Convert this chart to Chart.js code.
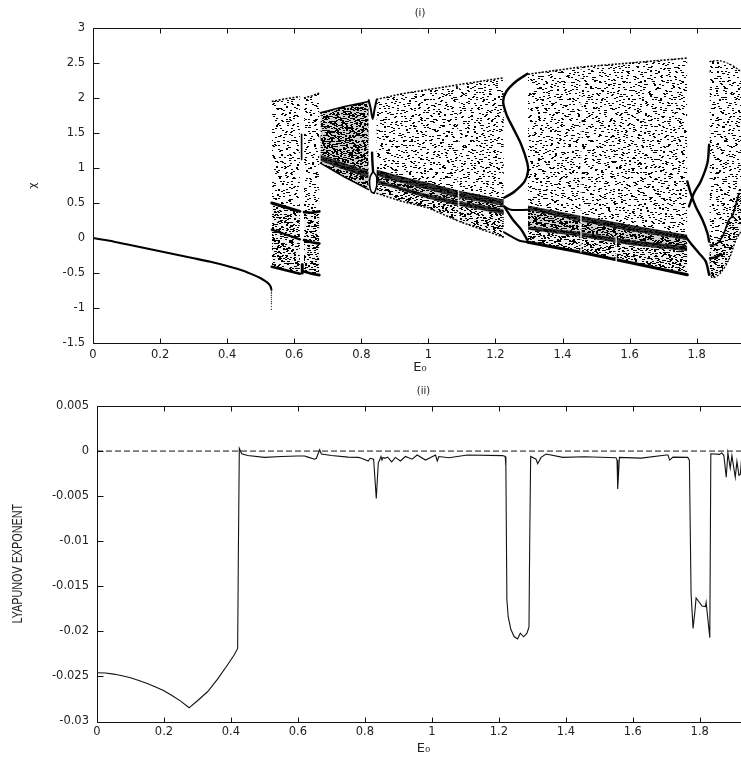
<!DOCTYPE html>
<html><head><meta charset="utf-8">
<style>
html,body{margin:0;padding:0;background:#fff;overflow:hidden;width:741px;height:759px}
canvas{position:absolute;left:0;display:block}
#wrap{position:absolute;left:0;top:0;width:741px;height:759px;overflow:hidden}
</style>
<script src="https://cdn.jsdelivr.net/npm/chart.js@4/dist/chart.umd.js"></script>
</head><body>
<div id="wrap">
<canvas id="c1" width="751" height="380" style="top:0"></canvas>
<canvas id="c2" width="750" height="379" style="top:380px"></canvas>
</div>
<script>
// ---------- tick labels ----------
const xTicks=[0,0.2,0.4,0.6,0.8,1,1.2,1.4,1.6,1.8];
const chiTicks=[-1.5,-1,-0.5,0,0.5,1,1.5,2,2.5,3];
const lyaTicks=[-0.03,-0.025,-0.02,-0.015,-0.01,-0.005,0,0.005];

// ---------- panel (i): fixed point branch ----------
const fixedE=[0,0.05,0.1,0.15,0.2,0.25,0.3,0.35,0.4,0.45,0.48,0.5,0.515,0.525,0.53,0.532];
const fixedX=[0,-0.04,-0.09,-0.14,-0.19,-0.24,-0.29,-0.34,-0.40,-0.47,-0.53,-0.575,-0.62,-0.66,-0.70,-0.74];
const dropE=[0.532,0.532,0.532,0.532,0.532,0.532,0.532,0.532,0.532];
const dropX=[-0.77,-0.79,-0.82,-0.85,-0.88,-0.91,-0.94,-0.98,-1.02];

// ---------- panel (i): chaotic band edges ----------
const aLE=[0.533,0.575,0.617], aLTop=[1.95,1.99,2.02], aLLine1=[0.50,0.44,0.38], aLLine2=[0.12,0.05,-0.02], aLBot=[-0.41,-0.46,-0.51];
const aRE=[0.629,0.652,0.675], aRTop=[2.00,2.03,2.07], aRLine1=[0.37,0.36,0.38], aRLine2=[-0.03,-0.06,-0.08], aRBot=[-0.48,-0.51,-0.53];
const bE=[0.678,0.75,0.822], bTop=[1.79,1.88,1.95], bS1Top=[1.19,1.07,0.95], bS1Bot=[1.10,0.97,0.86], bBot=[1.07,0.87,0.69];
const cE=[0.845,0.92,1,1.09,1.225], cTop=[1.98,2.06,2.12,2.19,2.29];
const cS1Top=[0.978,0.88,0.79,0.68,0.55], cS1Bot=[0.89,0.79,0.69,0.57,0.46];
const cS2Top=[0.835,0.73,0.62,0.53,0.405], cS2Bot=[0.787,0.68,0.56,0.46,0.335], cBot=[0.64,0.525,0.43,0.24,0.01];
const dE=[1.297,1.45,1.6,1.772], dTop=[2.34,2.44,2.50,2.57];
const dS1Top=[0.463,0.32,0.19,0.048], dS1Bot=[0.405,0.24,0.10,-0.03];
const dS2Top=[0.167,0.09,-0.03,-0.119], dS2Bot=[0.119,0.02,-0.10,-0.19], dBot=[-0.06,-0.20,-0.35,-0.525];
const eE=[1.838,1.848,1.871,1.896,1.92,1.95], eTop=[2.52,2.53,2.53,2.49,2.42,2.3];
const eMid=[-0.05,-0.06,0.02,0.26,0.64,0.9], eBot=[-0.5,-0.57,-0.5,-0.31,0.0,0.2];

// ---------- panel (i): periodic windows ----------
const sE=[1.226,1.257,1.287,1.297,1.295,1.277,1.252,1.233,1.223,1.233,1.262,1.295];
const sX=[0.575,0.665,0.808,0.951,1.072,1.333,1.577,1.763,1.953,2.096,2.239,2.345];
const flatE=[1.226,1.246,1.297], flatX=[0.451,0.403,0.403];
const eyeUpE=[1.226,1.252,1.277,1.295], eyeUpX=[0.451,0.26,0.12,-0.03];
const eyeLoE=[1.226,1.247,1.272,1.295], eyeLoX=[0.079,0.022,-0.04,-0.06];
const winAE=[1.772,1.782,1.797,1.817,1.832,1.837], winAX=[0.808,0.642,0.451,0.26,0.069,-0.05];
const winBE=[1.837,1.832,1.812,1.792,1.777], winBX=[1.333,1.072,0.808,0.642,0.451];
const winCE=[1.767,1.782,1.807,1.827,1.837], winCX=[0.021,-0.074,-0.217,-0.337,-0.526];
const w1E=[0.822,0.828,0.834,0.84,0.846], w1X=[1.97,1.85,1.70,1.85,1.98];
const w2E=[0.832,0.833,0.835], w2X=[1.22,1.1,0.95];
const w3E=[0.835,0.826,0.825,0.83,0.838], w3X=[0.95,0.87,0.75,0.66,0.64];
const w4E=[0.835,0.845,0.846,0.842,0.838], w4X=[0.95,0.88,0.75,0.68,0.64];
const w5E=[0.622,0.622], w5X=[1.48,1.12];
const w6E=[0.624,0.624], w6X=[-0.38,-0.5];
const eCurveE=[1.84,1.858,1.877,1.896,1.906,1.925], eCurveX=[-0.10,-0.09,0.02,0.26,0.31,0.62];
const eLowE=[1.84,1.86,1.872], eLowX=[-0.29,-0.27,-0.23];
const slitE=[1.09,1.455,1.56];
const slitHi=[2.2,2.44,0.0], slitLo=[0.24,-0.2,-0.36];

// ---------- panel (ii): Lyapunov exponent ----------
const lyaE=[0,0.025,0.05,0.075,0.1,0.125,0.15,0.175,0.2,0.225,0.25,0.275,0.3,0.33,0.36,0.39,0.41,0.42,0.422,0.425,0.432,0.45,0.5,0.55,0.6,0.62,0.63,0.65,0.655,0.665,0.67,0.7,0.75,0.78,0.79,0.81,0.816,0.826,0.834,0.84,0.844,0.848,0.851,0.854,0.86,0.868,0.88,0.891,0.906,0.921,0.941,0.956,0.981,1.011,1.016,1.021,1.051,1.106,1.211,1.219,1.221,1.224,1.228,1.236,1.246,1.256,1.264,1.274,1.284,1.29,1.292,1.295,1.311,1.316,1.326,1.341,1.391,1.456,1.55,1.553,1.555,1.56,1.625,1.70,1.705,1.71,1.72,1.764,1.769,1.774,1.78,1.786,1.789,1.799,1.807,1.817,1.819,1.83,1.833,1.859,1.866,1.872,1.879,1.884,1.891,1.896,1.906,1.911,1.917,1.921,1.927];
const lyaV=[-0.02459,-0.02462,-0.02474,-0.02492,-0.02515,-0.02545,-0.02578,-0.02617,-0.02659,-0.02714,-0.02774,-0.02848,-0.0277,-0.0267,-0.0253,-0.0237,-0.0226,-0.0219,-0.012,0.0003,-0.0003,-0.0005,-0.0007,-0.0006,-0.00055,-0.00055,-0.00067,-0.0009,-0.0008,0.00015,-0.00033,-0.0005,-0.00067,-0.0007,-0.0008,-0.0011,-0.0008,-0.0009,-0.00526,-0.0013,-0.001,-0.0006,-0.001,-0.0007,-0.0008,-0.00067,-0.0012,-0.0007,-0.0011,-0.0006,-0.0009,-0.00044,-0.001,-0.00044,-0.0011,-0.0006,-0.00074,-0.00044,-0.0005,-0.0006,-0.0017,-0.0165,-0.0184,-0.0198,-0.0206,-0.02085,-0.0202,-0.0206,-0.0202,-0.0195,-0.0106,-0.0006,-0.0009,-0.0014,-0.0007,-0.00033,-0.0007,-0.00063,-0.00074,-0.001,-0.0042,-0.0007,-0.00078,-0.00044,-0.00044,-0.001,-0.00067,-0.0007,-0.001,-0.0158,-0.01967,-0.0176,-0.0163,-0.0168,-0.0172,-0.01726,-0.0168,-0.0207,-0.0003,-0.00037,-0.0002,-0.0005,-0.0029,-0.0002,-0.0019,-0.0005,-0.0029,-0.00115,-0.0027,-0.0026,0];
const zeroE=[0,1.95], zeroV=[0,0];

// ---------- stipple texture for the chaotic bands (style only, not data) ----------
const tileA=[[3,2],[9,4],[21,1],[34,3],[48,2],[60,5],[14,8],[27,7],[41,9],[55,8],[64,11],[5,12],[19,13],[33,14],[46,13],[58,16],[10,18],[24,19],[38,18],[51,21],[2,22],[16,24],[30,23],[44,25],[62,24],[7,28],[22,29],[36,28],[54,30],[12,33],[28,34],[42,33],[60,35],[4,37],[18,39],[35,39],[49,38],[25,43],[57,42],[8,44],[40,45],[15,48],[31,49],[52,47],[63,50],[1,51],[45,51]];
const tileB=[[2,3],[13,1],[27,5],[41,2],[52,6],[7,9],[20,11],[35,10],[47,13],[56,15],[1,16],[14,18],[29,17],[40,20],[9,23],[24,24],[50,22],[33,27],[45,29],[5,30],[17,32],[55,31],[26,35],[38,36],[11,38],[48,39],[2,42],[20,43],[32,44],[57,45],[42,47],[13,49],[27,51],[51,53],[6,54],[36,56],[19,58],[45,60],[56,61],[10,62],[29,64],[3,67],[39,68],[22,69],[50,69]];
const tileC=[[4,1],[18,3],[31,1],[47,2],[63,4],[76,1],[10,6],[25,7],[40,6],[55,8],[70,7],[2,10],[16,12],[34,11],[49,13],[66,12],[80,11],[8,16],[27,16],[43,17],[59,16],[74,18],[14,21],[37,21],[52,22],[68,23],[3,24],[22,25],[45,26],[78,25],[11,29],[30,30],[60,29],[72,31],[19,34],[39,35],[54,34],[6,36],[64,38],[25,39],[47,39],[81,37]];
const tiles=[[tileA,67,53],[tileB,59,71],[tileC,83,41]];
const layerShift=[[0,0],[0,0],[0,0],[29,17],[13,31],[41,9],[51,38],[37,52],[22,27],[11,26],[47,11],[66,33],[38,7],[24,60],[5,19],[60,45],[8,44],[73,14],[19,12],[31,39],[29,3],[43,29],[52,20],[56,22],[6,35],[17,66],[35,30],[33,48],[44,5],[15,36]];
function stipple(layers,base){
  const cv=document.createElement('canvas');cv.width=760;cv.height=400;
  const g=cv.getContext('2d');
  g.fillStyle='#000';
  for(let k=0;k<layers;k++){
    const t=tiles[k%3],o=layerShift[k];
    for(let ox=o[0]-90;ox<760;ox+=t[1])for(let oy=o[1]-90;oy<400;oy+=t[2])
      t[0].forEach(d=>g.fillRect(ox+d[0],oy+d[1],2,1));
  }
  const out=document.createElement('canvas');out.width=760;out.height=400;
  const h=out.getContext('2d');
  if(base){h.fillStyle=base;h.fillRect(0,0,760,400);}
  h.filter='blur(0.4px)';
  h.drawImage(cv,0,0);
  return h.createPattern(out,'repeat');
}
const sparse=stipple(7);
const medium=stipple(17,'rgba(0,0,0,0.06)');
const dense=stipple(27,'rgba(0,0,0,0.18)');
const heavy=stipple(24,'rgba(0,0,0,0.8)');

// ---------- build datasets ----------
const pts=(a,b)=>a.map((x,i)=>({x,y:b[i]}));
const ds1=[];
function band(xs,up,lo,pat,order){
  const idx=ds1.length;
  ds1.push({data:pts(xs,up),borderWidth:0,pointRadius:0,tension:0,fill:false,order});
  ds1.push({data:pts(xs,lo),borderWidth:0,pointRadius:0,tension:0,fill:{target:idx},backgroundColor:pat,order});
}
function line(xs,ys,w,order=5,tension=0.3,color='#000',dash){
  ds1.push({data:pts(xs,ys),borderColor:color,borderWidth:w,pointRadius:0,tension,fill:false,order,borderCapStyle:dash?'butt':'round',borderDash:dash||[]});
}
const speck=[2,1.5];
// region a
band(aLE,aLTop,aLLine1,sparse,50);band(aLE,aLLine1,aLLine2,medium,40);band(aLE,aLLine2,aLBot,medium,40);
band(aRE,aRTop,aRLine1,sparse,50);band(aRE,aRLine1,aRLine2,medium,40);band(aRE,aRLine2,aRBot,medium,40);
[[aLE,aLLine1,3],[aLE,aLLine2,2.2],[aLE,aLBot,2.6],[aRE,aRLine1,2.6],[aRE,aRLine2,2.6],[aRE,aRBot,2.6]].forEach(a=>line(a[0],a[1],a[2],8,0));
line(aLE,aLTop,1.6,8,0,'#000',speck);line(aRE,aRTop,1.6,8,0,'#000',speck);
// region b
band(bE,bTop,bS1Top,dense,40);band(bE,bS1Top,bS1Bot,heavy,30);band(bE,bS1Bot,bBot,dense,40);
line(bE,bTop,1.5,8,0);line(bE,bBot,1.5,8,0);
// region c
band(cE,cTop,cS1Top,sparse,50);band(cE,cS1Top,cS1Bot,heavy,30);band(cE,cS1Bot,cS2Top,dense,40);
band(cE,cS2Top,cS2Bot,heavy,30);band(cE,cS2Bot,cBot,medium,40);
line(cE,cTop,1.5,8,0,'#000',speck);line(cE,cBot,1.5,8,0,'#000',speck);
// region d
band(dE,dTop,dS1Top,sparse,50);band(dE,dS1Top,dS1Bot,heavy,30);band(dE,dS1Bot,dS2Top,dense,40);
band(dE,dS2Top,dS2Bot,heavy,30);band(dE,dS2Bot,dBot,medium,40);
line(dE,dTop,1.6,8,0,'#000',speck);line(dE,dBot,3.2,8,0);
// region e
band(eE,eTop,eMid,sparse,50);band(eE,eMid,eBot,medium,40);
line(eE,eTop,1.2,8,0.3,'#000',speck);line(eE,eBot,1.2,8,0.3,'#000',speck);line(eCurveE,eCurveX,1.6,8);line(eLowE,eLowX,2.6,8);
// slits
slitE.forEach((e,i)=>line([e,e],[slitHi[i],slitLo[i]],1.5,6,0,'rgba(255,255,255,0.85)'));
// window branches
[[sE,sX,2.4],[flatE,flatX,2],[eyeUpE,eyeUpX,2.4],[eyeLoE,eyeLoX,2],[winAE,winAX,2.4],[winBE,winBX,2.4],[winCE,winCX,2.4],[w1E,w1X,2],[w2E,w2X,2.4],[w3E,w3X,1.6],[w4E,w4X,1.6],[w5E,w5X,1.6],[w6E,w6X,3]].forEach(a=>line(a[0],a[1],a[2],2));
line(fixedE,fixedX,2.1,2,0.2);
ds1.push({data:pts(dropE,dropX),showLine:false,pointRadius:0.7,pointBackgroundColor:'#333',pointBorderWidth:0,order:2});

const ds2=[
 {data:pts(lyaE,lyaV),borderColor:'#111',borderWidth:1.1,pointRadius:0,tension:0,fill:false,order:1},
 {data:pts(zeroE,zeroV),borderColor:'#111',borderWidth:1,borderDash:[6,3],pointRadius:0,tension:0,fill:false,order:2}
];

// ---------- gnuplot-style frame with inward ticks ----------
const frame={id:'frame',afterDraw(ch){
  const {ctx,chartArea:a,scales:{x,y}}=ch;
  const L=Math.round(a.left)+.5,R=Math.round(a.right)+.5,T=Math.round(a.top)+.5,B=Math.round(a.bottom)+.5;
  ctx.save();ctx.strokeStyle='#111';ctx.lineWidth=1;ctx.beginPath();
  ctx.rect(L,T,R-L,B-T);
  x.ticks.forEach(t=>{const p=Math.round(x.getPixelForValue(t.value))+.5;ctx.moveTo(p,B);ctx.lineTo(p,B-5);ctx.moveTo(p,T);ctx.lineTo(p,T+5);});
  y.ticks.forEach(t=>{const p=Math.round(y.getPixelForValue(t.value))+.5;ctx.moveTo(L,p);ctx.lineTo(L+6,p);ctx.moveTo(R,p);ctx.lineTo(R-6,p);});
  ctx.stroke();
  // condensed rotated axis title
  const c=ch.options.condensedTitle;
  if(c){
    ctx.translate(c.x,(a.top+a.bottom)/2);ctx.rotate(-Math.PI/2);ctx.scale(c.squeeze,1);
    ctx.fillStyle='#222';ctx.font=c.font;ctx.textAlign='center';ctx.textBaseline='middle';
    ctx.fillText(c.text,0,0);
  }
  ctx.restore();
}};

const tickFont={family:'"DejaVu Sans"',size:11.5};
const ink='#222';
function makeChart(id,datasets,o){
  return new Chart(document.getElementById(id),{
    type:'line',data:{datasets},plugins:[frame],
    options:{responsive:false,animation:false,devicePixelRatio:1,
      condensedTitle:o.condensed,
      layout:{padding:0},
      plugins:{legend:{display:false},tooltip:{enabled:false},
        title:{display:true,text:o.title,fullSize:false,color:ink,font:{family:'"DejaVu Sans"',size:10,weight:'normal'},padding:o.titlePad}},
      scales:{
        x:{type:'linear',min:0,max:1.95,grid:{display:false,drawTicks:false},border:{display:false},
          afterBuildTicks:s=>{s.ticks=xTicks.map(v=>({value:v}));},
          afterFit:s=>{s.height=o.xH;},
          ticks:{font:tickFont,color:ink,maxRotation:0,autoSkip:false,padding:o.xTickPad,callback:v=>String(v)},
          title:{display:true,text:'E₀',color:ink,font:{family:'"DejaVu Sans"',size:13},padding:{top:0,bottom:o.xTitleBottom}}},
        y:{type:'linear',min:o.yMin,max:o.yMax,grid:{display:false,drawTicks:false},border:{display:false},
          afterBuildTicks:s=>{s.ticks=o.yTicks.map(v=>({value:v}));},
          afterFit:s=>{s.width=o.yW;},
          ticks:{font:tickFont,color:ink,autoSkip:false,padding:o.yTickPad,callback:v=>String(v)},
          title:{display:!!o.yTitle,text:o.yTitle||'',color:ink,font:o.yFont,padding:{top:o.yTitleLeft,bottom:0}}}
      }}
  });
}
makeChart('c1',ds1,{title:'(i)',titlePad:{top:7,bottom:9},xH:37,xTickPad:5,xTitleBottom:5,yMin:-1.5,yMax:3,yTicks:chiTicks,yW:93,yTickPad:8,
  yTitle:'χ',yFont:{family:'"DejaVu Sans"',size:11},yTitleLeft:27});
makeChart('c2',ds2,{title:'(ii)',titlePad:{top:5,bottom:9},xH:37.5,xTickPad:4,xTitleBottom:3,yMin:-0.03,yMax:0.005,yTicks:lyaTicks,yW:97,yTickPad:8,
  condensed:{text:'LYAPUNOV EXPONENT',x:18,squeeze:0.72,font:'15px "Liberation Sans"'}});
</script>
</body></html>
